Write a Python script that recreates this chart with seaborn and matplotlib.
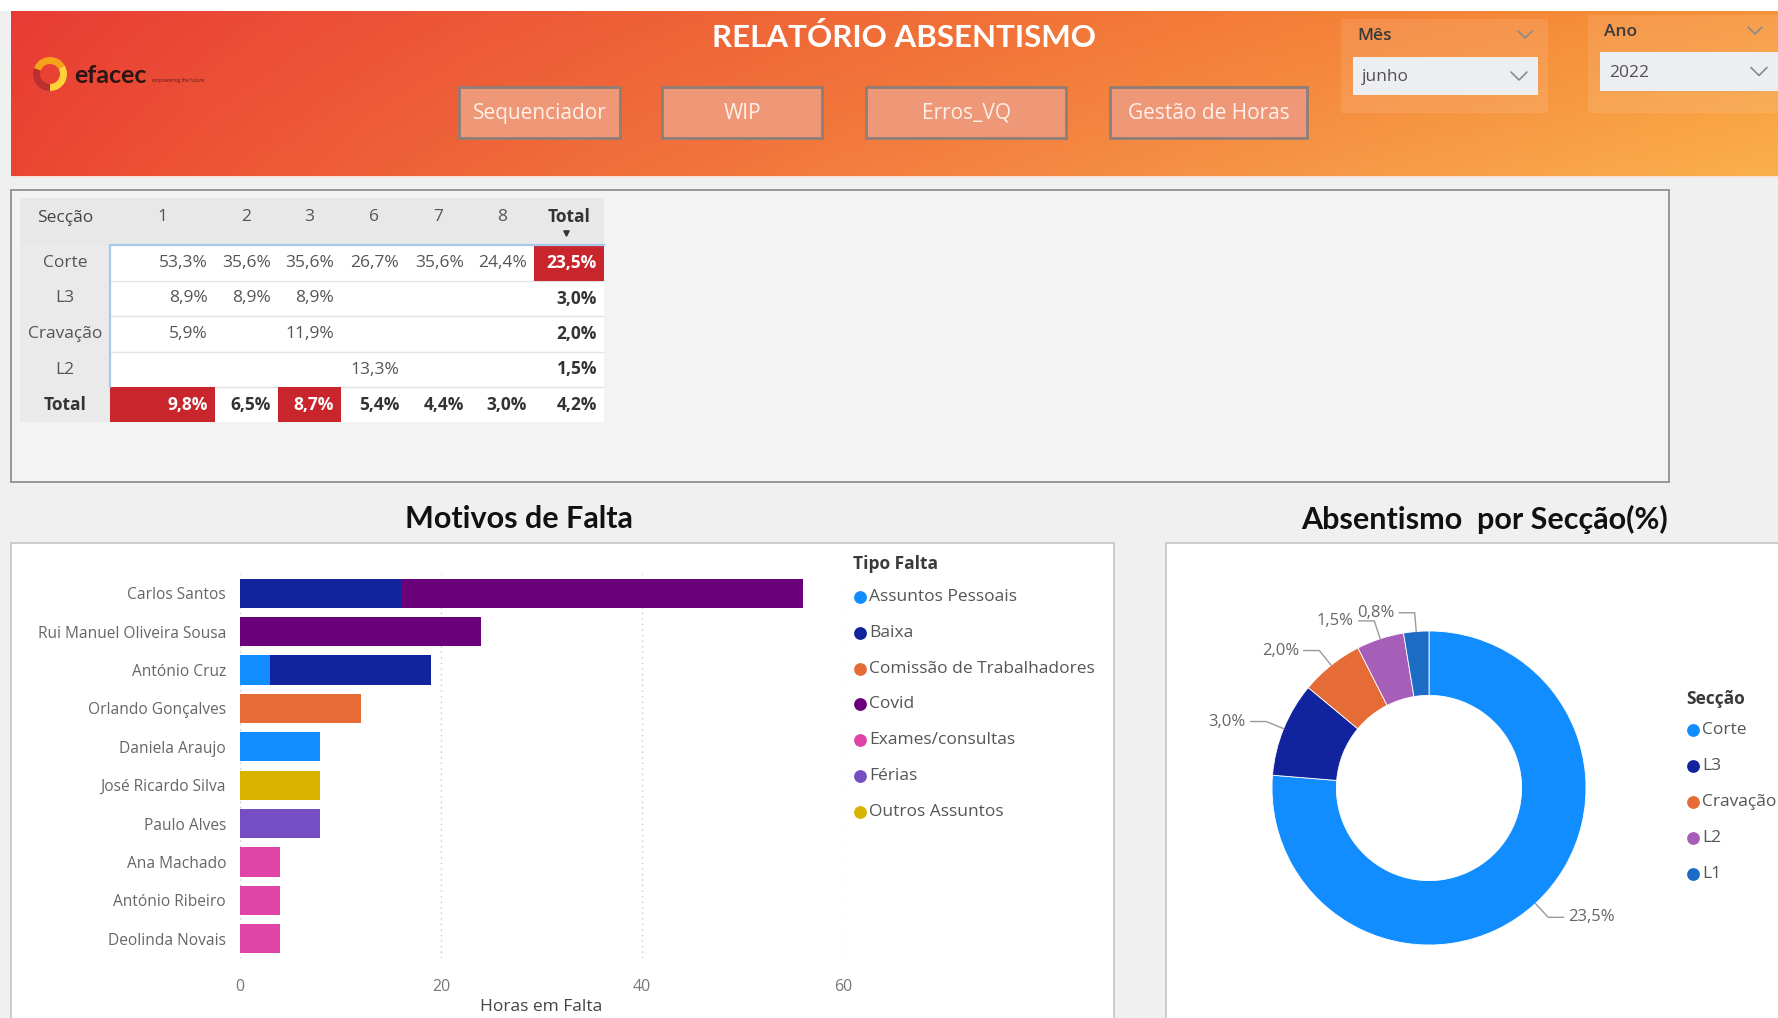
import numpy as np
import pandas as pd
import matplotlib
matplotlib.use("Agg")
import matplotlib.pyplot as plt
import seaborn as sns
from matplotlib.patches import Rectangle, Wedge

# ---------------- data ----------------
report_title = "RELATÓRIO ABSENTISMO"
nav_buttons = ["Sequenciador", "WIP", "Erros_VQ", "Gestão de Horas"]
month_label, month_value = "Mês", "junho"
year_label, year_value = "Ano", "2022"

table_corner = "Secção"
table_columns = ["1", "2", "3", "6", "7", "8", "Total"]
table_rows = ["Corte", "L3", "Cravação", "L2", "Total"]
row_corte = [53.3, 35.6, 35.6, 26.7, 35.6, 24.4, 23.5]
row_l3 = [8.9, 8.9, 8.9, None, None, None, 3.0]
row_cravacao = [5.9, None, 11.9, None, None, None, 2.0]
row_l2 = [None, None, None, 13.3, None, None, 1.5]
row_total = [9.8, 6.5, 8.7, 5.4, 4.4, 3.0, 4.2]
table_highlight = [(0, 6), (4, 0), (4, 2)]

employees = ["Carlos Santos", "Rui Manuel Oliveira Sousa", "António Cruz",
             "Orlando Gonçalves", "Daniela Araujo", "José Ricardo Silva",
             "Paulo Alves", "Ana Machado", "António Ribeiro", "Deolinda Novais"]
tipos = ["Assuntos Pessoais", "Baixa", "Comissão de Trabalhadores", "Covid",
         "Exames/consultas", "Férias", "Outros Assuntos"]
tipo_colors = ["#118DFF", "#12239E", "#E66C37", "#6B007B", "#E044A7", "#744EC2", "#D9B300"]
seg_employee = ["Carlos Santos", "Carlos Santos", "Rui Manuel Oliveira Sousa",
                "António Cruz", "António Cruz", "Orlando Gonçalves", "Daniela Araujo",
                "José Ricardo Silva", "Paulo Alves", "Ana Machado", "António Ribeiro",
                "Deolinda Novais"]
seg_tipo = ["Baixa", "Covid", "Covid", "Assuntos Pessoais", "Baixa",
            "Comissão de Trabalhadores", "Assuntos Pessoais", "Outros Assuntos",
            "Férias", "Exames/consultas", "Exames/consultas", "Exames/consultas"]
seg_hours = [16, 40, 24, 3, 16, 12, 8, 8, 8, 4, 4, 4]
bar_ticks = [0, 20, 40, 60]

seccoes = ["Corte", "L3", "Cravação", "L2", "L1"]
seccao_pct = [23.5, 3.0, 2.0, 1.5, 0.8]
seccao_colors = ["#118DFF", "#12239E", "#E66C37", "#A65EB8", "#1C6CC6"]

# ---------------- setup ----------------
sns.set_theme(style="white")
plt.rcParams["font.family"] = ["Open Sans", "DejaVu Sans"]
W, H = 1778, 1018
fig = plt.figure(figsize=(W / 100, H / 100), dpi=100, facecolor="#F0F0F0")


def rect(x0, y0, x1, y1):
    return [x0 / W, 1 - y1 / H, (x1 - x0) / W, (y1 - y0) / H]


def fmt(v):
    return "" if v is None else f"{v:.1f}%".replace(".", ",")


bg = fig.add_axes([0, 0, 1, 1], zorder=0)
bg.set_xlim(0, W)
bg.set_ylim(H, 0)
bg.axis("off")
bg.add_patch(Rectangle((0, 0), W, 11, fc="white", ec="none", zorder=0.5))

# ---- header ----
nx, ny = 500, 60
xs = np.linspace(0, 1, nx)[None, :, None]
ys = np.linspace(0, 1, ny)[:, None, None]
TL = np.array([0.91, 0.23, 0.21]); TR = np.array([0.97, 0.58, 0.22])
BL = np.array([0.92, 0.27, 0.19]); BR = np.array([0.98, 0.69, 0.30])
tx = xs ** 0.85
grad = (1 - ys) * ((1 - tx) * TL + tx * TR) + ys * ((1 - tx) * BL + tx * BR)
bg.imshow(np.clip(grad, 0, 1), extent=(11, W, 176, 11), aspect="auto", zorder=1)
bg.set_xlim(0, W); bg.set_ylim(H, 0)
bg.add_patch(Rectangle((11, 176), W, 2, fc="#F4E2D8", ec="none", zorder=2))

bg.text(904, 37, report_title, color="white", fontsize=22.5, fontweight="bold",
        family=["Lato", "DejaVu Sans"], ha="center", va="center", zorder=3)

# logo
for th1, th2, c in [(200, 330, "#F7A21B"), (330, 450, "#FFD23A"), (90, 200, "#B9302E")]:
    bg.add_patch(Wedge((50, 74), 17, th1, th2, width=7, fc=c, ec="none", zorder=3))
bg.text(74, 75, "efacec", fontsize=18, fontweight="bold", color="#2B1514",
        family=["Lato", "DejaVu Sans"], ha="left", va="center", zorder=3)
bg.text(152, 80, "empowering the future", fontsize=3.5, color="#5A1A1A",
        ha="left", va="center", zorder=3)

btn_x = [(459, 620), (662, 822), (866, 1066), (1110, 1307)]
for (x0, x1), lab in zip(btn_x, nav_buttons):
    bg.add_patch(Rectangle((x0, 87), x1 - x0, 51, fc="#EE9878", ec="#8E7E78", lw=2, zorder=3))
    bg.text((x0 + x1) / 2, 113, lab, color="#FFF0EA", fontsize=15, ha="center",
            va="center", zorder=4)

for (sx0, sx1, sy0, sy1), (dx0, dx1, dy0, dy1), lab, val in [
        ((1341, 1548, 19, 113), (1353, 1538, 57, 95), month_label, month_value),
        ((1588, W, 15, 113), (1600, W, 52, 91), year_label, year_value)]:
    bg.add_patch(Rectangle((sx0, sy0), sx1 - sx0, sy1 - sy0, fc="white", alpha=0.1,
                           ec="none", zorder=3))
    bg.add_patch(Rectangle((dx0, dy0), dx1 - dx0, dy1 - dy0, fc="#ECEEF2", ec="none",
                           zorder=4))
    bg.text(sx0 + 16, sy0 + 17, lab, fontsize=12.5, fontweight="semibold", color="#3A3A3A",
            ha="left", va="center", zorder=5)
    bg.text(dx0 + 9, (dy0 + dy1) / 2 + 1, val, fontsize=12.5, color="#505050",
            ha="left", va="center", zorder=5)
    bg.plot([sx1 - 30, sx1 - 23, sx1 - 16], [sy0 + 12, sy0 + 19, sy0 + 12],
            color="#8A8A8A", lw=1.2, zorder=5)
    bg.plot([dx1 - 27, dx1 - 19, dx1 - 11], [(dy0 + dy1) / 2 - 4, (dy0 + dy1) / 2 + 4,
            (dy0 + dy1) / 2 - 4], color="#8A8A8A", lw=1.2, zorder=5)

# ---- panels ----
bg.add_patch(Rectangle((11, 190), 1658, 292, fc="#F3F3F3", ec="#8F8F8F", lw=1.3, zorder=1))
bg.add_patch(Rectangle((11, 543), 1103, 500, fc="white", ec="#C8C8C8", lw=1.3, zorder=1))
bg.add_patch(Rectangle((1166, 543), 640, 500, fc="white", ec="#C8C8C8", lw=1.3, zorder=1))
bg.text(519, 519, "Motivos de Falta", fontsize=22, fontweight="bold", color="#111111",
        family=["Lato", "DejaVu Sans"], ha="center", va="center", zorder=3)
bg.text(1485, 519, "Absentismo  por Secção(%)", fontsize=22, fontweight="bold",
        color="#111111", family=["Lato", "DejaVu Sans"], ha="center", va="center", zorder=3)

# ---- matrix table ----
col_edges = [20, 110, 215, 278, 341, 406, 471, 534, 604]
row_edges = [198, 245, 281, 316, 352, 387, 422]
rows_data = [row_corte, row_l3, row_cravacao, row_l2, row_total]
bg.add_patch(Rectangle((col_edges[0], row_edges[0]), col_edges[-1] - col_edges[0],
                       row_edges[1] - row_edges[0], fc="#E8E8E8", ec="none", zorder=2))
bg.add_patch(Rectangle((col_edges[0], row_edges[1]), col_edges[1] - col_edges[0],
                       row_edges[-1] - row_edges[1], fc="#EAEAEA", ec="none", zorder=2))
bg.add_patch(Rectangle((col_edges[1], row_edges[1]), col_edges[-1] - col_edges[1],
                       row_edges[-1] - row_edges[1], fc="white", ec="none", zorder=2))
for r, c in table_highlight:
    bg.add_patch(Rectangle((col_edges[c + 1], row_edges[r + 1]),
                           col_edges[c + 2] - col_edges[c + 1],
                           row_edges[r + 2] - row_edges[r + 1], fc="#C9252C", ec="none",
                           zorder=3))
for y in row_edges[2:-1]:
    bg.plot([col_edges[1], col_edges[-1]], [y, y], color="#E4E4E4", lw=1, zorder=2.5)
bg.plot([col_edges[1], col_edges[-1]], [row_edges[1], row_edges[1]], color="#A9C9EC",
        lw=1.6, zorder=4)
bg.plot([col_edges[1], col_edges[1]], [row_edges[1], row_edges[-2]], color="#A9C9EC",
        lw=1.6, zorder=4)

hy = (row_edges[0] + row_edges[1]) / 2 - 4
bg.text((col_edges[0] + col_edges[1]) / 2, hy, table_corner, fontsize=12.5, color="#444444",
        ha="center", va="center", zorder=5)
for j, lab in enumerate(table_columns):
    bold = lab == "Total"
    bg.text((col_edges[j + 1] + col_edges[j + 2]) / 2, hy - 1, lab, fontsize=12.5,
            color="#333333" if bold else "#555555",
            fontweight="bold" if bold else "normal", ha="center", va="center", zorder=5)
bg.scatter([(col_edges[-2] + col_edges[-1]) / 2 - 3], [row_edges[1] - 12], marker="v",
           s=14, color="#333333", zorder=5)
for i, lab in enumerate(table_rows):
    yc = (row_edges[i + 1] + row_edges[i + 2]) / 2
    total_row = lab == "Total"
    bg.text((col_edges[0] + col_edges[1]) / 2, yc, lab, fontsize=12.5,
            color="#333333" if total_row else "#555555",
            fontweight="bold" if total_row else "normal", ha="center", va="center", zorder=5)
    for j, v in enumerate(rows_data[i]):
        hl = (i, j) in table_highlight
        bold = total_row or j == len(table_columns) - 1
        bg.text(col_edges[j + 2] - 7, yc, fmt(v), fontsize=12.5,
                color="white" if hl else ("#333333" if bold else "#555555"),
                fontweight="bold" if bold else "normal", ha="right", va="center", zorder=5)

# ---- stacked bar chart ----
segs = pd.DataFrame({"employee": seg_employee, "tipo": seg_tipo, "hours": seg_hours})
segs["emp_idx"] = segs["employee"].map({e: i for i, e in enumerate(employees)})
segs["tipo_idx"] = segs["tipo"].map({t: i for i, t in enumerate(tipos)})
segs = segs.sort_values(["emp_idx", "tipo_idx"]).reset_index(drop=True)
segs["end"] = segs.groupby("employee")["hours"].cumsum()
segs["layer"] = segs.groupby("employee").cumcount()
palette = dict(zip(tipos, tipo_colors))

ax = fig.add_axes(rect(240, 574, 843, 958), zorder=2)
ax.set_facecolor("none")
for layer in sorted(segs["layer"].unique(), reverse=True):
    sub = segs[segs["layer"] == layer]
    sns.barplot(data=sub, x="end", y="employee", hue="tipo", order=employees,
                hue_order=tipos, palette=palette, dodge=False, width=0.76,
                saturation=1, errorbar=None, legend=False, orient="h", ax=ax,
                linewidth=0)
ax.set_xlim(bar_ticks[0], bar_ticks[-1])
ax.set_ylim(len(employees) - 0.5, -0.5)
ax.set_xticks(bar_ticks)
ax.set_ylabel("")
ax.set_xlabel("Horas em Falta", fontsize=12.5, color="#444444", labelpad=3)
ax.grid(axis="x", linestyle=(0, (1, 3)), color="#C8C8C8", lw=1)
ax.set_axisbelow(True)
for s in ax.spines.values():
    s.set_visible(False)
ax.tick_params(axis="y", length=0, pad=10, labelsize=11.2, labelcolor="#666666")
ax.tick_params(axis="x", length=0, pad=15, labelsize=11.5, labelcolor="#777777")

# bar legend
bg.text(853, 564, "Tipo Falta", fontsize=12.5, fontweight="bold", color="#3A3A3A",
        ha="left", va="center", zorder=5)
for i, (t, c) in enumerate(zip(tipos, tipo_colors)):
    y = 597 + i * 35.8
    bg.scatter([860], [y], s=85, color=c, zorder=5, linewidths=0)
    bg.text(869, y, t, fontsize=12.5, color="#555555", ha="left", va="center", zorder=5)

# ---- donut ----
cx, cy, R = 1429, 788, 157
half = 190
ax2 = fig.add_axes(rect(cx - half, cy - half, cx + half, cy + half), zorder=2)
ax2.set_facecolor("none")
wedges, _ = ax2.pie(seccao_pct, colors=seccao_colors, startangle=90, counterclock=False,
                    radius=1, wedgeprops=dict(width=0.41, edgecolor="white", linewidth=0.6))
lim = half / R
ax2.set_xlim(-lim, lim)
ax2.set_ylim(-lim, lim)
ax2.set_aspect("equal")
ax2.axis("off")
for w, v in zip(wedges, seccao_pct):
    a = np.deg2rad((w.theta1 + w.theta2) / 2)
    ca, sa = np.cos(a), np.sin(a)
    side = 1 if ca > 0 else -1
    ex, ey = 1.12 * ca, 1.12 * sa
    ax2.plot([1.0 * ca, ex, ex + side * 0.10], [1.0 * sa, ey, ey], color="#9A9A9A", lw=1)
    ax2.text(ex + side * 0.13, ey, fmt(v), fontsize=12, color="#666666",
             ha="left" if side > 0 else "right", va="center")

bg.text(1686, 699, "Secção", fontsize=12.5, fontweight="bold", color="#3A3A3A",
        ha="left", va="center", zorder=5)
for i, (s_, c) in enumerate(zip(seccoes, seccao_colors)):
    y = 730 + i * 36
    bg.scatter([1693], [y], s=85, color=c, zorder=5, linewidths=0)
    bg.text(1702, y, s_, fontsize=12.5, color="#555555", ha="left", va="center", zorder=5)

fig.savefig("out.png", dpi=100, facecolor=fig.get_facecolor())
